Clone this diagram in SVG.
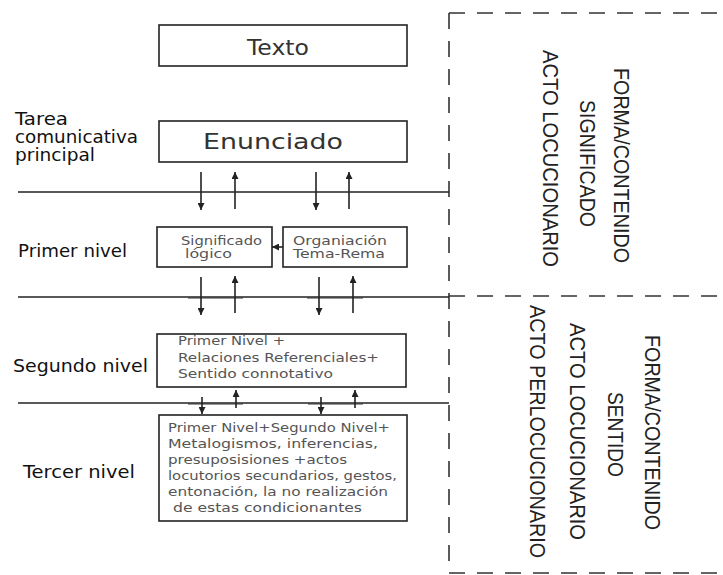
<svg xmlns="http://www.w3.org/2000/svg" width="723" height="575" viewBox="0 0 723 575">
<style>
.box{fill:#fff;stroke:#222;stroke-width:1.6}
.lbl{font-family:"DejaVu Sans",sans-serif;font-size:17px;fill:#111}
.big{font-family:"DejaVu Sans",sans-serif;font-size:22px;fill:#333}
.sm{font-family:"DejaVu Sans",sans-serif;font-size:12px;fill:#555}
.rot{font-family:"Liberation Sans",Arial,sans-serif;font-size:22px;fill:#222;text-anchor:middle}
.ln{stroke:#222;stroke-width:1.6;fill:none}
.thk{stroke:#333;stroke-width:1.2;fill:none}
.arr{stroke:#222;stroke-width:1.6;fill:none;marker-end:url(#ah)}
.dash{stroke:#333;stroke-width:1.6;fill:none;stroke-dasharray:16 12}
</style>
<defs>
<marker id="ah" viewBox="0 0 8 8" refX="8" refY="4" markerWidth="7" markerHeight="7" markerUnits="userSpaceOnUse" orient="auto">
<path d="M0,0 L8,4 L0,8 z" fill="#222"/>
</marker>
</defs>
<rect width="723" height="575" fill="#fff"/>

<g id="frame">
<line class="dash" x1="449" y1="13" x2="449" y2="573"/>
<line class="dash" x1="449" y1="13" x2="723" y2="13"/>
<line class="dash" x1="449" y1="296" x2="723" y2="296"/>
<line class="dash" x1="449" y1="573" x2="723" y2="573"/>
</g>

<g id="levels">
<line class="ln" x1="18" y1="192" x2="449" y2="192"/>
<line class="ln" x1="18" y1="297" x2="449" y2="297"/>
<line class="ln" x1="18" y1="403" x2="449" y2="403"/>
<line class="thk" x1="188" y1="298" x2="243" y2="298"/>
<line class="thk" x1="307" y1="298" x2="363" y2="298"/>
<line class="thk" x1="188" y1="404" x2="243" y2="404"/>
<line class="thk" x1="308" y1="404" x2="363" y2="404"/>
</g>

<g id="left-labels">
<text class="lbl" x="15" y="125" textLength="53" lengthAdjust="spacingAndGlyphs">Tarea</text>
<text class="lbl" x="15" y="143" textLength="123" lengthAdjust="spacingAndGlyphs">comunicativa</text>
<text class="lbl" x="15" y="161" textLength="80" lengthAdjust="spacingAndGlyphs">principal</text>
<text class="lbl" x="18" y="257" textLength="109" lengthAdjust="spacingAndGlyphs">Primer nivel</text>
<text class="lbl" x="13" y="372" textLength="135" lengthAdjust="spacingAndGlyphs">Segundo nivel</text>
<text class="lbl" x="23" y="478" textLength="112" lengthAdjust="spacingAndGlyphs">Tercer nivel</text>
</g>

<g id="texto">
<rect class="box" x="159" y="25" width="248" height="41"/>
<text class="big" x="247" y="55" textLength="62" lengthAdjust="spacingAndGlyphs">Texto</text>
</g>

<g id="enunciado">
<rect class="box" x="159" y="121" width="248" height="41"/>
<text class="big" x="203" y="149" textLength="140" lengthAdjust="spacingAndGlyphs">Enunciado</text>
</g>

<g id="significado">
<rect class="box" x="157" y="227" width="115" height="40"/>
<text class="sm" x="181" y="245" textLength="81" lengthAdjust="spacingAndGlyphs">Significado</text>
<text class="sm" x="185" y="258" textLength="47" lengthAdjust="spacingAndGlyphs">lógico</text>
</g>

<g id="organiacion">
<rect class="box" x="283" y="227" width="124" height="40"/>
<text class="sm" x="293" y="245" textLength="94" lengthAdjust="spacingAndGlyphs">Organiación</text>
<text class="sm" x="293" y="258" textLength="92" lengthAdjust="spacingAndGlyphs">Tema-Rema</text>
</g>

<g id="segundo">
<rect class="box" x="157" y="334" width="249" height="53"/>
<text class="sm" x="178" y="345" textLength="107" lengthAdjust="spacingAndGlyphs">Primer Nivel  +</text>
<text class="sm" x="178" y="362" textLength="201" lengthAdjust="spacingAndGlyphs">Relaciones Referenciales+</text>
<text class="sm" x="178" y="378" textLength="155" lengthAdjust="spacingAndGlyphs">Sentido connotativo</text>
</g>

<g id="tercer">
<rect class="box" x="159" y="415" width="248" height="106"/>
<text class="sm" x="168" y="432" textLength="222" lengthAdjust="spacingAndGlyphs">Primer Nivel+Segundo Nivel+</text>
<text class="sm" x="168" y="448" textLength="210" lengthAdjust="spacingAndGlyphs">Metalogismos, inferencias,</text>
<text class="sm" x="168" y="464" textLength="179" lengthAdjust="spacingAndGlyphs">presuposisiones  +actos</text>
<text class="sm" x="168" y="480" textLength="229" lengthAdjust="spacingAndGlyphs">locutorios secundarios, gestos,</text>
<text class="sm" x="168" y="496" textLength="220" lengthAdjust="spacingAndGlyphs">entonación, la no realización</text>
<text class="sm" x="173" y="512" textLength="189" lengthAdjust="spacingAndGlyphs">de estas condicionantes</text>
</g>

<g id="side-top">
<text class="rot" transform="translate(614,165.5) rotate(90)" textLength="195" lengthAdjust="spacingAndGlyphs">FORMA/CONTENIDO</text>
<text class="rot" transform="translate(580,163.5) rotate(90)" textLength="127" lengthAdjust="spacingAndGlyphs">SIGNIFICADO</text>
<text class="rot" transform="translate(543,158.5) rotate(90)" textLength="217" lengthAdjust="spacingAndGlyphs">ACTO LOCUCIONARIO</text>
</g>

<g id="side-bottom">
<text class="rot" transform="translate(645,432.5) rotate(90)" textLength="195" lengthAdjust="spacingAndGlyphs">FORMA/CONTENIDO</text>
<text class="rot" transform="translate(608,434.5) rotate(90)" textLength="85" lengthAdjust="spacingAndGlyphs">SENTIDO</text>
<text class="rot" transform="translate(570,431.5) rotate(90)" textLength="217" lengthAdjust="spacingAndGlyphs">ACTO LOCUCIONARIO</text>
<text class="rot" transform="translate(530,431.5) rotate(90)" textLength="253" lengthAdjust="spacingAndGlyphs">ACTO PERLOCUCIONARIO</text>
</g>

<g id="connectors">
<path class="arr" d="M201,172 V210"/>
<path class="arr" d="M316,172 V210"/>
<path class="arr" d="M235,209 V172"/>
<path class="arr" d="M349,209 V172"/>
<path class="arr" d="M283,247 H272"/>
<path class="arr" d="M201,277 V315"/>
<path class="arr" d="M319,277 V315"/>
<path class="arr" d="M235,313 V276"/>
<path class="arr" d="M353,313 V276"/>
<path class="arr" d="M202,397 V414"/>
<path class="arr" d="M321,397 V414"/>
<path class="arr" d="M236,408 V390"/>
<path class="arr" d="M355,408 V390"/>
</g>
</svg>
